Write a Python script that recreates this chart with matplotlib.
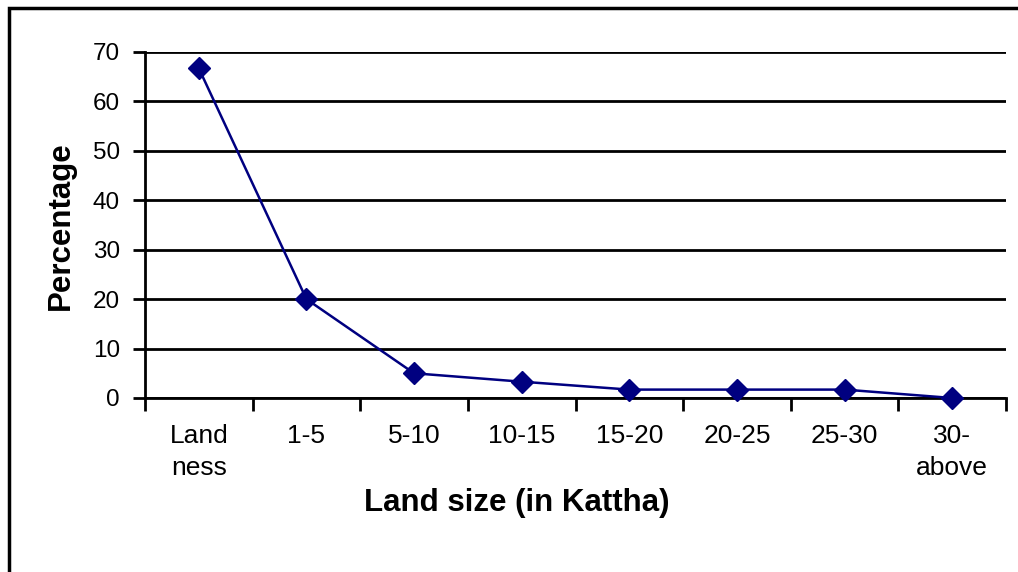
import matplotlib
matplotlib.use("Agg")
import matplotlib.pyplot as plt
from matplotlib.patches import Rectangle
import numpy as np

# Data
categories = ["Land\nness", "1-5", "5-10", "10-15", "15-20", "20-25", "25-30", "30-\nabove"]
percentage = [66.7, 20.0, 5.0, 3.3, 1.7, 1.7, 1.7, 0.0]
y_ticks = [0, 10, 20, 30, 40, 50, 60, 70]

plt.rcParams['font.family'] = ['Liberation Sans', 'DejaVu Sans']

W, H = 1018, 572
fig = plt.figure(figsize=(W / 100, H / 100), dpi=100)
ax = fig.add_axes([145 / W, 1 - 398 / H, (1006 - 145) / W, (398 - 52) / H])

# outer frame (right and bottom edges fall outside the picture)
fig.patches.append(Rectangle((9 / W, -0.05), 1.1, 1 - 8 / H + 0.05,
                             transform=fig.transFigure, fill=False,
                             edgecolor='black', linewidth=2.5))

x = np.arange(len(categories))
ax.plot(x, percentage, color='#000080', linewidth=1.8, marker='D',
        markersize=11, markerfacecolor='#000080', markeredgecolor='#000080',
        clip_on=False, zorder=3)

ax.set_xlim(-0.5, len(categories) - 0.5)
ax.set_ylim(0, 70)
ax.set_yticks(y_ticks)
ax.yaxis.grid(True, color='black', linewidth=2)
ax.set_axisbelow(True)

# category ticks sit on the boundaries, labels in the middle
ax.set_xticks(np.arange(len(categories) + 1) - 0.5)
ax.set_xticklabels([])
ax.set_xticks(x, minor=True)
ax.set_xticklabels(categories, minor=True, fontsize=19, linespacing=1.4, va='top')
ax.tick_params(axis='x', which='minor', length=0, pad=19)
ax.tick_params(axis='x', which='major', length=9, width=2, direction='out')
ax.tick_params(axis='y', length=9, width=2, direction='out', labelsize=17.5, pad=9)

for side in ['top', 'right']:
    ax.spines[side].set_visible(False)
ax.spines['left'].set_linewidth(2)
ax.spines['bottom'].set_linewidth(2)

ax.set_xlabel("Land size (in Kattha)", fontsize=22.5, fontweight='bold')
ax.set_ylabel("Percentage", fontsize=22.5, fontweight='bold')
ax.xaxis.set_label_coords((517 - 145) / (1006 - 145), -(503 - 398) / (398 - 52))
ax.xaxis.label.set_va('center')
ax.yaxis.set_label_coords(-(145 - 61) / (1006 - 145), (398 - 226) / (398 - 52))
ax.yaxis.label.set_va('center')

fig.savefig("out.png", dpi=100)
